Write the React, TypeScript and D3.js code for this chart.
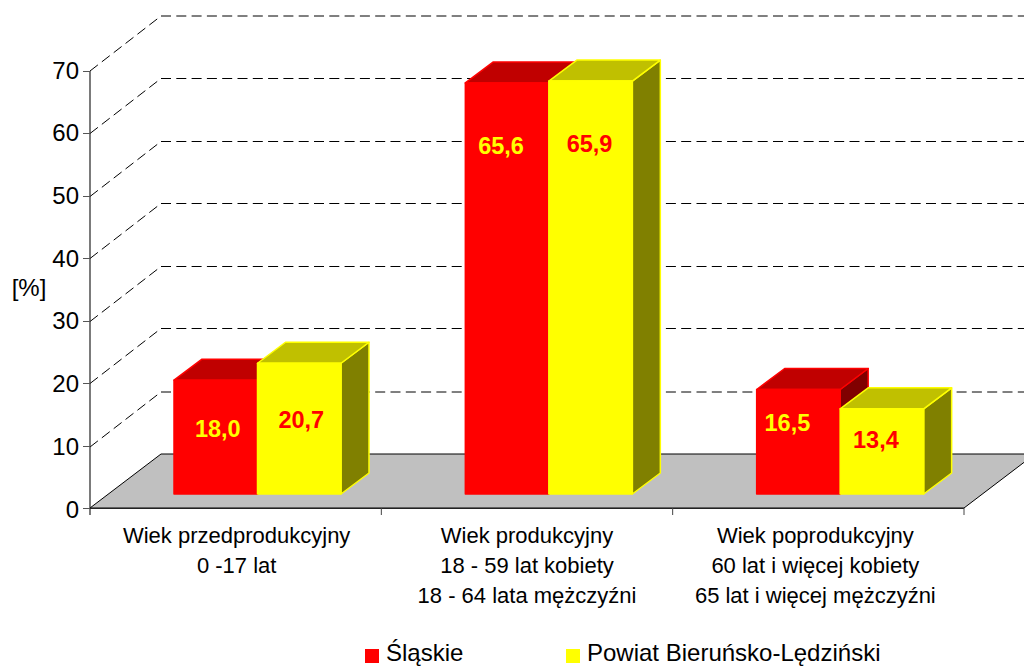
import React from "react";
import * as d3 from "d3";

const categories = [
  ["Wiek przedprodukcyjny", "0 -17 lat"],
  ["Wiek produkcyjny", "18 - 59 lat kobiety", "18 - 64 lata mężczyźni"],
  ["Wiek poprodukcyjny", "60 lat i więcej kobiety", "65 lat i więcej mężczyźni"],
];
const seriesNames = ["Śląskie", "Powiat Bieruńsko-Lędziński"];
const slaskie = [18.0, 65.6, 16.5];
const powiat = [20.7, 65.9, 13.4];
const tickValues = [0, 10, 20, 30, 40, 50, 60, 70];
const yAxisLabel = "[%]";

// layout only
const labelDrop = [[48, 56], [63, 62], [33, 31]];
const labelShift = [[2, 2], [-6, -1], [-11, -6]];
const categoryShift = [1, 0, -3];
const palette = [
  { front: "#ff0000", top: "#c00000", side: "#800000", text: "#ffff00" },
  { front: "#ffff00", top: "#c0c000", side: "#808000", text: "#ff0000" },
];
const FONT = "'Liberation Sans', Arial, sans-serif";
const DEPTH = { x: 71, y: 55 };
const BAR_DEPTH = { x: 28, y: 21 };

const y = d3.scaleLinear().domain([0, 70]).range([508, 71]);
const yText = d3.scaleLinear().domain([0, 70]).range([509, 70]);
const x0 = d3.scaleBand<number>().domain([0, 1, 2]).range([90, 964]);
const x1 = d3.scaleBand<number>().domain([0, 1]).range([84, 251]);
const BAR_LIFT = 15.5;
const BAR_BASE = 494;
const pts = (a: number[][]) => a.map((p) => p.join(",")).join(" ");

export default function App() {
  const series = [slaskie, powiat];
  const wallRight = 1040;
  return (
    <svg width={1024} height={666} style={{ position: "absolute", left: 0, top: 0, background: "#fff" }} fontFamily={FONT}>
      {/* walls */}
      {tickValues.map((t) => {
        const py = t === 10 ? 447 : Math.round(y(t)) + (t === 70 ? 0 : 0.5);
        return (
          <g key={t}>
            {t > 0 && (
              <>
                <path d={d3.line()([[90, py], [90 + DEPTH.x, py - DEPTH.y]])!} stroke="#000" strokeWidth={1} strokeDasharray="10 5" fill="none" />
                <line x1={90 + DEPTH.x} x2={wallRight} y1={py - DEPTH.y} y2={py - DEPTH.y} stroke="#000" strokeWidth={1} strokeDasharray="10 5.3" />
              </>
            )}
          </g>
        );
      })}
      {/* floor */}
      <polygon
        points={pts([[90, y(0)], [964, y(0)], [964 + DEPTH.x, y(0) - 54], [90 + DEPTH.x, y(0) - 54]])}
        fill="#c0c0c0"
        stroke="#000"
        strokeWidth={1}
      />
      {/* bars */}
      {categories.map((_, i) =>
        series.map((s, j) => {
          const left = x0(i)! + x1(j)!;
          const right = left + x1.bandwidth();
          const topY = y(s[i]) - BAR_LIFT;
          const c = palette[j];
          const dx = BAR_DEPTH.x, dy = BAR_DEPTH.y;
          return (
            <g key={`${i}-${j}`} stroke={c.front} strokeWidth={1.5} strokeLinejoin="round">
              <polygon points={pts([[right, topY], [right + dx, topY - dy], [right + dx, BAR_BASE - dy], [right, BAR_BASE]])} fill={c.side} />
              <polygon points={pts([[left, topY], [right, topY], [right + dx, topY - dy], [left + dx, topY - dy]])} fill={c.top} />
              <rect x={left} y={topY} width={right - left} height={BAR_BASE - topY} fill={c.front} />
            </g>
          );
        })
      )}
      {/* value labels */}
      {categories.map((_, i) =>
        series.map((s, j) => (
          <text
            key={`l-${i}-${j}`}
            x={x0(i)! + x1(j)! + x1.bandwidth() / 2 + labelShift[i][j]}
            y={y(s[i]) - BAR_LIFT + labelDrop[i][j]}
            dy="0.36em"
            textAnchor="middle"
            fontSize={23.5}
            fontWeight="bold"
            fill={palette[j].text}
          >
            {s[i].toFixed(1).replace(".", ",")}
          </text>
        ))
      )}
      {/* axes */}
      <line x1={90} x2={90} y1={y(70)} y2={515} stroke="#222" strokeWidth={1.2} />
      <line x1={90} x2={964} y1={508.5} y2={508.5} stroke="#222" strokeWidth={1.2} />
      {tickValues.map((t) => (
        <g key={t}>
          <line x1={83} x2={90} y1={Math.round(y(t)) + 0.5} y2={Math.round(y(t)) + 0.5} stroke="#555" strokeWidth={1} />
          <text x={79} y={yText(t)} dy="0.36em" textAnchor="end" fontSize={24} fill="#000">{t}</text>
        </g>
      ))}
      {categories.map((_, i) => (
        <line key={i} x1={x0(i)! + x0.bandwidth()} x2={x0(i)! + x0.bandwidth()} y1={508} y2={515} stroke="#444" strokeWidth={1} />
      ))}
      <text x={29} y={287} dy="0.36em" textAnchor="middle" fontSize={24} fill="#000">{yAxisLabel}</text>
      {categories.map((lines, i) =>
        lines.map((t, k) => (
          <text key={k} x={x0(i)! + x0.bandwidth() / 2 + categoryShift[i]} y={535 + k * 30} dy="0.36em" textAnchor="middle" fontSize={22} fill="#000">{t}</text>
        ))
      )}
      {/* legend */}
      {seriesNames.map((n, j) => {
        const sx = [365, 566][j];
        return (
          <g key={n}>
            <rect x={sx} y={649} width={14} height={14} fill={palette[j].front} />
            <text x={sx + 21} y={652.5} dy="0.36em" fontSize={24} fill="#000">{n}</text>
          </g>
        );
      })}
    </svg>
  );
}
